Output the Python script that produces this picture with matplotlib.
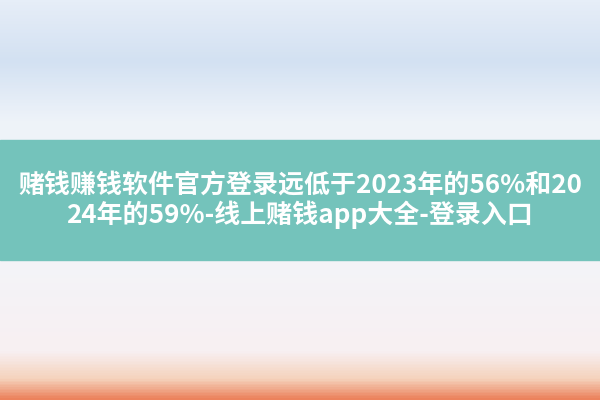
import numpy as np
import matplotlib
matplotlib.use("Agg")
import matplotlib.pyplot as plt
from matplotlib.colors import LinearSegmentedColormap

plt.rcParams['font.family'] = ['Noto Sans CJK SC', 'DejaVu Sans']

# Text lines
line1 = "赌钱赚钱软件官方登录远低于2023年的56%和20"
line2 = "24年的59%-线上赌钱app大全-登录入口"

# Background gradient stops (position from top, colour)
bg_stops = [(0.0, "#e6eef8"), (0.15, "#d3e1f2"), (0.3, "#eef3f9"),
            (0.65, "#f3f4f8"), (0.88, "#f8f0f2"), (0.95, "#f5d2bc"), (1.0, "#ec825c")]

fig = plt.figure(figsize=(6, 4), dpi=100)
ax = fig.add_axes([0, 0, 1, 1])
ax.set_xlim(0, 600)
ax.set_ylim(400, 0)
ax.axis('off')

cmap = LinearSegmentedColormap.from_list("bg", bg_stops)
grad = np.linspace(0, 1, 400).reshape(-1, 1)
ax.imshow(grad, cmap=cmap, aspect='auto', extent=[0, 600, 400, 0], zorder=0)

# Teal band
ax.add_patch(plt.Rectangle((0, 140), 600, 120, color="#74c3bb", zorder=1))

ax.text(300, 185, line1, color="white", fontsize=18.7, fontweight='bold',
        ha='center', va='center', zorder=2)
ax.text(300, 215, line2, color="white", fontsize=18.7, fontweight='bold',
        ha='center', va='center', zorder=2)

fig.savefig("out.png", dpi=100)
